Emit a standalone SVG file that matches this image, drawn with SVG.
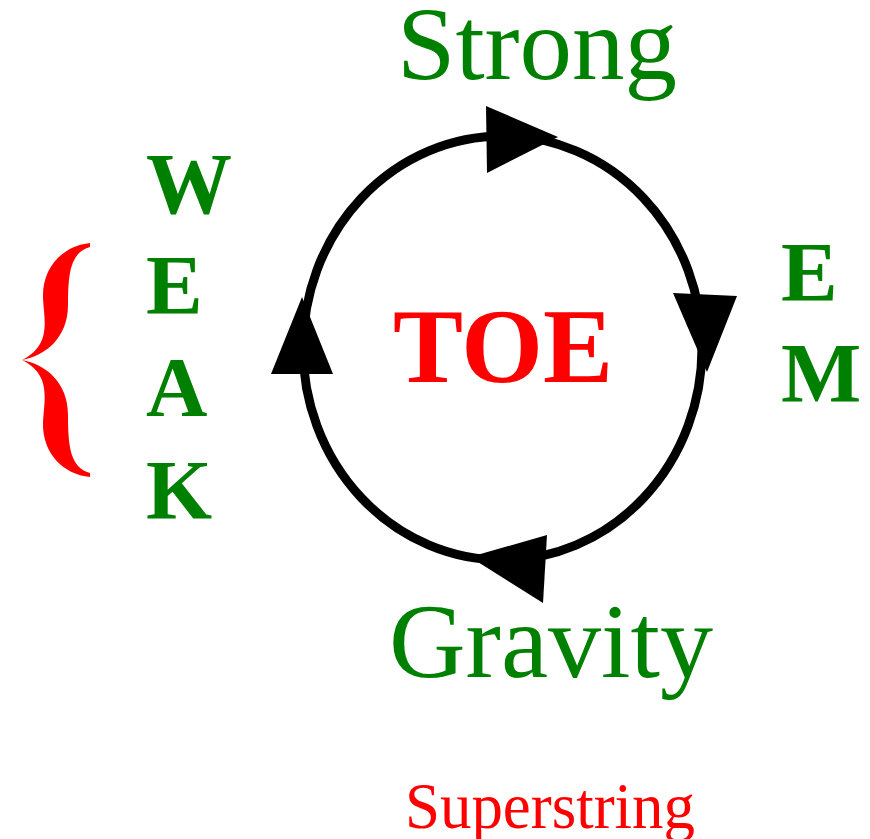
<svg xmlns="http://www.w3.org/2000/svg" width="870" height="839" viewBox="0 0 870 839">
<style>
.g{fill:#008000;font-family:"Liberation Serif","Times New Roman",serif}
.b{font-weight:bold}
.r{fill:#ff0000;font-family:"Liberation Serif","Times New Roman",serif}
.ah{fill:#000}
</style>
<rect width="870" height="839" fill="#fff"/>
<g id="connectors">
<ellipse cx="502.5" cy="348" rx="199.5" ry="212" fill="none" stroke="#000" stroke-width="9"/>
<polygon class="ah" points="486,106 558,137 487,173"/>
<polygon class="ah" points="673,293 737,296 707,372"/>
<polygon class="ah" points="547,535 543,603 470,557"/>
<polygon class="ah" points="302,297 333,374 271,374"/>
</g>
<g id="toe"><text class="r b" x="503" y="382" font-size="105" text-anchor="middle">TOE</text></g>
<g id="strong"><text class="g" x="397" y="79" font-size="103" textLength="280" lengthAdjust="spacingAndGlyphs">Strong</text></g>
<g id="gravity"><text class="g" x="389" y="677" font-size="106" textLength="324" lengthAdjust="spacingAndGlyphs">Gravity</text></g>
<g id="em">
<text class="g b" x="781" y="301" font-size="85">E</text>
<text class="g b" x="781" y="402" font-size="85">M</text>
</g>
<g id="weak">
<text class="g b" x="146" y="213" font-size="86">W</text>
<text class="g b" x="146" y="314" font-size="85">E</text>
<text class="g b" x="146" y="416" font-size="85">A</text>
<text class="g b" x="146" y="519" font-size="85">K</text>
</g>
<g id="brace">
<path fill="#ff0000" d="M90,243 C62,246 42,268 43,298 C44,320 52,345 22,360 C45,356 68,338 68,305 C68,275 70,252 90,247 Z M90,477 C62,474 42,452 43,422 C44,400 52,375 22,360 C45,364 68,382 68,415 C68,445 70,468 90,473 Z"/>
</g>
<g id="superstring"><text class="r" x="405" y="828" font-size="66" textLength="290" lengthAdjust="spacingAndGlyphs">Superstring</text></g>
</svg>
